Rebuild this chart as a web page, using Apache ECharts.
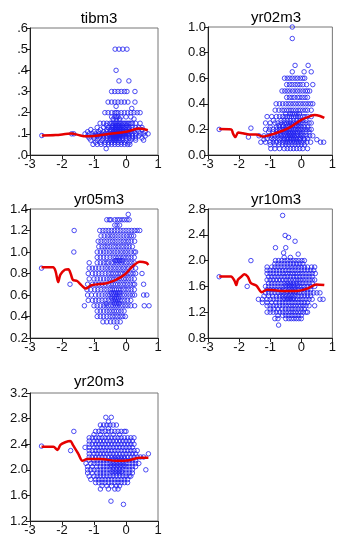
<!DOCTYPE html>
<html><head><meta charset="utf-8">
<script src="https://cdn.jsdelivr.net/npm/echarts@6/dist/echarts.min.js"></script>
<style>html,body{margin:0;padding:0;background:#fff}#c{width:339px;height:537px}</style>
</head><body><div id="c"></div>
<script>
const titles = ['tibm3','yr02m3','yr05m3','yr10m3','yr20m3'];
const xTicks = [-3,-2,-1,0,1];

// rows: [y, [x values...]]
const tibm3Rows = [
 [0.5,[-.34,-.22,-.1,.03]],
 [0.4,[-.31]],
 [0.35,[-.22,.09]],
 [0.3,[-.45,-.35,-.25,-.15,-.05,.03,.28]],
 [0.25,[-.56,-.45,-.35,-.25,-.15,-.05,.06,.28]],
 [0.23,[-.31]],
 [0.22,[.18]],
 [0.2,[-.66,-.56,-.45,-.35,-.3,-.25,-.15,-.05,.05,.15,.25,.35,.44]],
 [0.18,[-.45,-.35,-.3,-.25,-.15,0,.15]],
 [0.17,[-.4,-.3,-.2,.25]],
 [0.15,[-.81,-.7,-.6,-.5,-.45,-.4,-.35,-.3,-.25,-.2,-.15,-.1,-.05,0,.05,.1,.15,.2,.3,.44]],
 [0.14,[-.62,-.42,-.32,-.27,-.22,-.12,.02]],
 [0.13,[-.9,-.7,-.55,-.45,-.4,-.35,-.3,-.25,-.2,-.15,-.1,-.05,0,.05,.1,.2,.3,.4,.5]],
 [0.12,[-1.1,-.8,-.6,-.5,-.45,-.4,-.35,-.3,-.25,-.2,-.15,-.1,0,.1,.2,.35,.5]],
 [0.11,[-1.2,-1.0,-.85,-.7,-.6,-.5,-.4,-.35,-.3,-.25,-.2,-.15,-.1,-.05,0,.05,.15,.25,.4,.6]],
 [0.1,[-1.63,-1.7,-1.28,-1.15,-1.05,-.95,-.85,-.75,-.65,-.55,-.45,-.4,-.35,-.3,-.25,-.2,-.15,-.1,-.05,0,.05,.1,.2,.3,.45,.55,.69]],
 [0.095,[-.88,-.72,-.52,-.42,-.37,-.32,-.27,-.22,-.17,-.07,.07]],
 [0.092,[-2.63]],
 [0.09,[-1.2,-1.0,-.9,-.8,-.7,-.6,-.5,-.45,-.4,-.35,-.3,-.25,-.2,-.15,-.1,0,.1,.2,.3,.4,.6]],
 [0.08,[-1.15,-1.0,-.85,-.7,-.6,-.5,-.45,-.4,-.35,-.3,-.25,-.2,-.1,0,.1,.2,.3,.5]],
 [0.07,[-1.1,-.9,-.75,-.6,-.5,-.4,-.35,-.3,-.2,-.1,0,.15,.3,.55]],
 [0.06,[-.95,-.8,-.65,-.55,-.45,-.35,-.25,-.15,-.05,.1]],
 [0.05,[-1.03,-.9,-.78,-.66,-.55,-.45,-.35,-.25,-.15,-.05,.05,.12]],
 [0.03,[-.62]]
];
const yr02m3Rows = [
 [1.0,[-.29]],
 [0.91,[-.29]],
 [0.7,[-.2,.22]],
 [0.65,[-.29,.09,.32]],
 [0.6,[-.54,-.45,-.37,-.29,-.2,-.12,-.03,.05,.11]],
 [0.55,[-.47,-.38,-.3,-.2,-.12,-.04,.05,.17,.37]],
 [0.5,[-.62,-.53,-.45,-.37,-.28,-.2,-.12,-.04,.05,.13,.2,.27]],
 [0.45,[-.47,-.38,-.3,-.22,-.12,-.05,.03,.12,.2]],
 [0.4,[-.81,-.7,-.6,-.5,-.42,-.34,-.26,-.18,-.1,-.02,.06,.14,.22,.3,.37]],
 [0.35,[-.84,-.72,-.62,-.55,-.47,-.4,-.33,-.26,-.18,-.1,-.03,.05,.13,.2,.32]],
 [0.32,[-.5,-.36,-.29,-.22,-.14,-.06]],
 [0.3,[-1.1,-.95,-.8,-.7,-.6,-.52,-.45,-.38,-.32,-.25,-.18,-.1,-.03,.05,.12,.2,.32]],
 [0.27,[-.9,-.65,-.55,-.45,-.35,-.25,-.15,-.05,.05,.15]],
 [0.25,[-1.15,-1.0,-.85,-.75,-.65,-.55,-.48,-.4,-.33,-.25,-.18,-.1,-.02,.06,.15,.25,.32]],
 [0.23,[-.72,-.58,-.44,-.36,-.28,-.15,-.07]],
 [0.22,[-1.0,-.8,-.7,-.6,-.5,-.4,-.3,-.2,-.1,0,.1,.2]],
 [0.21,[-1.62]],
 [0.2,[-2.64,-1.15,-1.02,-.9,-.8,-.7,-.62,-.55,-.48,-.4,-.33,-.25,-.18,-.1,-.02,.06,.15,.25,.32]],
 [0.18,[-1.05,-.9,-.8,-.7,-.6,-.5,-.42,-.35,-.28,-.2,-.12,-.05,.05,.15,.25]],
 [0.165,[-.78,-.66,-.54,-.46,-.38,-.31,-.24,-.13,-.01]],
 [0.15,[-1.36,-1.2,-1.05,-.95,-.85,-.75,-.65,-.58,-.5,-.43,-.36,-.3,-.23,-.16,-.08,0,.08,.17,.27,.37]],
 [0.14,[-1.7]],
 [0.13,[-1.1,-.95,-.85,-.75,-.65,-.55,-.47,-.4,-.32,-.25,-.18,-.1,-.02,.08,.2]],
 [0.12,[-1.2,-.9,-.7,-.55,-.45,-.35,-.25,-.15,-.05,.1,.5]],
 [0.1,[-1.3,-1.15,-1.0,-.9,-.8,-.7,-.6,-.52,-.45,-.38,-.3,-.22,-.15,-.08,0,.08,.18,.3,.62,.72]],
 [0.08,[-1.0,-.85,-.72,-.6,-.5,-.4,-.3,-.2,-.1,0,.1]],
 [0.05,[-.98,-.85,-.7,-.55,-.45,-.35,-.25,-.15,-.05,.05,.2]]
];
const yr05m3Rows = [
 [1.35,[.07]],
 [1.3,[-.6,-.52,-.47,-.35,-.27,-.2,-.12,-.05,.03,.1]],
 [1.25,[-.35,-.28,-.2]],
 [1.2,[-1.62,-.82,-.72,-.63,-.54,-.45,-.36,-.27,-.18,-.09,0,.09,.18,.27,.35,.43]],
 [1.15,[-.78,-.68,-.58,-.5,-.42,-.34,-.25,-.16,-.07,.02,.1,.17,.24]],
 [1.1,[-.87,-.78,-.68,-.6,-.5,-.42,-.34,-.25,-.16,-.08,0,.08,.16,.27]],
 [1.05,[-.85,-.75,-.66,-.58,-.5,-.4,-.32,-.24,-.15,-.07,.02,.1,.2]],
 [1.0,[-1.63,-.9,-.8,-.7,-.62,-.52,-.44,-.35,-.27,-.18,-.1,-.02,.06,.15,.25,.3]],
 [0.95,[-.9,-.8,-.7,-.6,-.5,-.4,-.32,-.24,-.16,-.08,0,.08,.16,.26]],
 [0.92,[-.34,-.28,-.2,-.12]],
 [0.9,[-1.15,-.9,-.8,-.7,-.62,-.55,-.45,-.38,-.3,-.22,-.14,-.06,.02,.1,.18,.26]],
 [0.85,[-2.64,-1.15,-1.05,-.95,-.85,-.75,-.65,-.57,-.48,-.4,-.32,-.24,-.16,-.08,0,.08,.18,.3]],
 [0.8,[-1.18,-1.05,-.95,-.85,-.75,-.65,-.55,-.47,-.4,-.32,-.25,-.17,-.1,-.02,.06,.14,.22,.3,.5]],
 [0.75,[-1.15,-1.0,-.9,-.8,-.7,-.6,-.52,-.44,-.37,-.3,-.22,-.15,-.07,0,.08,.16,.26]],
 [0.7,[-1.75,-1.2,-1.05,-.95,-.85,-.75,-.65,-.55,-.47,-.4,-.33,-.26,-.18,-.1,-.03,.05,.13,.22,.27,.55]],
 [0.65,[-1.22,-1.1,-.98,-.88,-.78,-.68,-.6,-.5,-.43,-.36,-.3,-.23,-.16,-.08,0,.08,.16,.26]],
 [0.62,[-.46,-.38,-.32,-.26,-.2]],
 [0.6,[-1.2,-1.08,-.95,-.85,-.75,-.65,-.57,-.5,-.42,-.35,-.28,-.2,-.12,-.05,.03,.12,.2,.27,.55,.65]],
 [0.57,[-.44,-.36,-.3,-.24]],
 [0.55,[-1.18,-1.05,-.95,-.85,-.75,-.65,-.55,-.47,-.4,-.33,-.26,-.19,-.12,-.04,.05,.15]],
 [0.52,[-.62,-.36,-.3,-.22]],
 [0.5,[-1.3,-1.0,-.9,-.8,-.7,-.62,-.55,-.47,-.4,-.33,-.26,-.18,-.1,-.02,.06,.15,.27,.57,.72]],
 [0.45,[-.9,-.8,-.7,-.6,-.52,-.44,-.37,-.3,-.23,-.15,-.06]],
 [0.4,[-.9,-.8,-.7,-.6,-.5,-.42,-.34,-.26,-.18,-.1,-.02]],
 [0.35,[-.72,-.6,-.48,-.38,-.28,-.18]],
 [0.3,[-.3]]
];
const yr10m3Rows = [
 [2.7,[-.6]],
 [2.39,[-.52]],
 [2.36,[-.41]],
 [2.3,[-.2]],
 [2.2,[-.83,-.5]],
 [2.12,[-.57]],
 [2.1,[-.1]],
 [2.05,[-.55,-.35]],
 [2.0,[-1.62,-.83,-.73,-.63,-.53,-.44,-.35,-.26,-.17,-.08,.02,.1]],
 [1.95,[-.85,-.75,-.65,-.55,-.45,-.35,-.25,-.15,-.05,.05]],
 [1.9,[-1.1,-.95,-.85,-.75,-.65,-.55,-.45,-.36,-.27,-.18,-.09,0,.1,.2,.33,.43]],
 [1.85,[-1.1,-1.0,-.9,-.8,-.7,-.6,-.5,-.4,-.3,-.2,-.1,0,.1,.2,.3,.4]],
 [1.8,[-1.1,-1.0,-.9,-.8,-.7,-.6,-.52,-.44,-.36,-.28,-.2,-.12,-.04,.05,.15,.25,.35,.45]],
 [1.75,[-2.64,-1.05,-.95,-.85,-.75,-.65,-.55,-.45,-.35,-.25,-.15,-.05,.05,.15,.25,.35]],
 [1.7,[-1.1,-1.0,-.9,-.8,-.7,-.6,-.5,-.42,-.34,-.26,-.18,-.1,-.02,.06,.15,.25,.35,.43]],
 [1.65,[-1.05,-.95,-.85,-.75,-.65,-.55,-.45,-.35,-.25,-.15,-.05,.05,.15,.25,.35]],
 [1.62,[-.5,-.4,-.32,-.24,-.12]],
 [1.6,[-1.74,-1.15,-1.05,-.95,-.85,-.75,-.65,-.56,-.47,-.38,-.3,-.22,-.14,-.06,.02,.1,.2,.3,.43]],
 [1.55,[-1.1,-1.0,-.9,-.8,-.7,-.6,-.5,-.4,-.3,-.2,-.1,0,.1,.2,.3]],
 [1.52,[-.62,-.45,-.35,-.27,-.18]],
 [1.5,[-1.15,-1.05,-.95,-.85,-.75,-.65,-.56,-.47,-.38,-.3,-.22,-.14,-.06,.02,.1,.2,.3,.4,.5,.6]],
 [1.45,[-1.2,-1.05,-.92,-.8,-.7,-.6,-.5,-.4,-.3,-.2,-.1,0,.1,.2,.3]],
 [1.42,[-.55,-.43,-.35,-.25]],
 [1.4,[-1.38,-1.25,-1.1,-1.0,-.9,-.8,-.7,-.6,-.52,-.44,-.36,-.28,-.2,-.12,-.04,.05,.15,.25,.35,.6,.7]],
 [1.35,[-1.25,-1.1,-.95,-.82,-.7,-.6,-.5,-.4,-.3,-.2,-.1,0,.1,.2]],
 [1.3,[-1.1,-1.0,-.9,-.8,-.7,-.6,-.5,-.42,-.34,-.26,-.18,-.1,-.02,.06,.15,.25,.43]],
 [1.25,[-1.0,-.88,-.75,-.62,-.5,-.4,-.3,-.2,-.1,0,.1]],
 [1.2,[-1.1,-1.0,-.9,-.8,-.7,-.6,-.5,-.42,-.34,-.26,-.18,-.1,-.02,.06,.15,.2]],
 [1.15,[-.75,-.6,-.5,-.4,-.3,-.2,-.1,0]],
 [1.1,[-.85,-.75,-.5,-.4,-.32,-.24,-.16,-.08,0]],
 [1.0,[-.73]]
];
const yr20m3Rows = [
 [2.82,[-.63,-.46]],
 [2.75,[-.55]],
 [2.7,[-.8,-.7,-.6,-.5,-.4,-.3]],
 [2.65,[-.75,-.55]],
 [2.6,[-1.63,-.95,-.85,-.75,-.65,-.55,-.45,-.35,-.25,-.15,-.05,0]],
 [2.55,[-1.0,-.8,-.6,-.4,-.2]],
 [2.5,[-1.15,-1.05,-.95,-.85,-.75,-.65,-.55,-.45,-.35,-.25,-.15,-.05,.05,.15,.25]],
 [2.45,[-1.15,-1.0,-.9,-.8,-.7,-.6,-.5,-.4,-.3,-.2,-.1,0,.1,.2]],
 [2.4,[-1.15,-1.05,-.95,-.85,-.75,-.65,-.55,-.45,-.35,-.25,-.15,-.05,.05,.15,.25]],
 [2.37,[-2.64]],
 [2.35,[-1.28,-1.15,-1.0,-.9,-.8,-.7,-.6,-.5,-.4,-.3,-.2,-.1,0,.1,.2]],
 [2.3,[-1.73,-1.15,-1.05,-.95,-.85,-.75,-.65,-.55,-.45,-.35,-.25,-.15,-.05,.05,.15,.25,.35]],
 [2.25,[-1.15,-1.0,-.9,-.8,-.7,-.6,-.5,-.4,-.3,-.2,-.1,0,.1,.2,.3,.7]],
 [2.2,[-1.15,-1.05,-.95,-.85,-.75,-.65,-.55,-.45,-.35,-.25,-.15,-.05,.05,.15,.25,.35,.45,.55]],
 [2.17,[-.4,-.32,-.22,-.14,-.05]],
 [2.15,[-1.15,-1.0,-.9,-.8,-.7,-.6,-.5,-.4,-.3,-.2,-.1,0,.1,.2,.3]],
 [2.1,[-1.25,-1.1,-1.0,-.9,-.8,-.7,-.6,-.5,-.4,-.3,-.2,-.1,0,.1,.2,.3,.4]],
 [2.07,[-.46,-.36,-.26,-.16,-.06]],
 [2.05,[-1.2,-1.05,-.92,-.8,-.7,-.6,-.5,-.4,-.3,-.2,-.1,0,.1,.2,.3]],
 [2.0,[-1.2,-1.1,-1.0,-.9,-.8,-.7,-.6,-.5,-.4,-.3,-.2,-.1,0,.1,.2,.62]],
 [1.97,[-.44,-.34,-.24,-.14]],
 [1.95,[-1.2,-1.05,-.9,-.8,-.7,-.6,-.5,-.4,-.3,-.2,-.1,0,.1,.2]],
 [1.9,[-1.15,-1.0,-.9,-.8,-.7,-.6,-.5,-.4,-.3,-.2,-.1,0,.1,.15]],
 [1.85,[-1.1,-.95,-.85,-.75,-.65,-.55,-.45,-.35,-.25,-.15,-.05,.05]],
 [1.8,[-.95,-.85,-.75,-.65,-.55,-.45,-.35,-.25,-.15,-.05,.05]],
 [1.75,[-.75,-.6,-.45,-.3,-.2]],
 [1.7,[-.8,-.55,-.35,-.25]],
 [1.51,[-.47]],
 [1.46,[-.08]]
];

// smoothed (red) curves: [x, y]
const tibm3Fit = [[-2.63,.092],[-2.2,.094],[-1.7,.101],[-1.5,.095],[-1.25,.088],[-1.0,.09],[-0.5,.1],[0,.11],[0.2,.118],[0.4,.125],[0.55,.123],[0.68,.117]];
const yr02m3Fit = [[-2.64,.203],[-2.25,.2],[-2.2,.17],[-2.12,.14],[-2.03,.175],[-1.88,.17],[-1.67,.16],[-1.44,.16],[-1.25,.145],[-0.83,.17],[-0.41,.21],[0,.275],[0.25,.3],[0.43,.313],[0.6,.305],[0.74,.29]];
const yr05m3Fit = [[-2.64,.857],[-2.28,.857],[-2.2,.82],[-2.12,.72],[-2.05,.79],[-1.91,.835],[-1.8,.84],[-1.72,.79],[-1.66,.74],[-1.53,.73],[-1.39,.69],[-1.26,.66],[-1.08,.69],[-0.61,.71],[-0.35,.735],[-0.04,.79],[0.22,.87],[0.43,.91],[0.63,.9],[0.7,.88]];
const yr10m3Fit = [[-2.64,1.755],[-2.26,1.755],[-2.15,1.69],[-2.09,1.62],[-2.04,1.7],[-1.93,1.75],[-1.83,1.79],[-1.72,1.75],[-1.62,1.65],[-1.44,1.61],[-1.27,1.51],[-1.1,1.55],[-0.62,1.53],[-0.15,1.53],[0.22,1.57],[0.48,1.63],[0.74,1.62]];
const yr20m3Fit = [[-2.64,2.36],[-2.27,2.36],[-2.14,2.31],[-2.05,2.39],[-1.9,2.43],[-1.74,2.45],[-1.66,2.39],[-1.49,2.25],[-1.36,2.14],[-1.21,2.17],[-0.81,2.17],[-0.3,2.14],[0.1,2.15],[0.43,2.19],[0.7,2.19]];

const yMin = [0, 0, 0.2, 0.8, 1.2];
const yMax = [0.6, 1.0, 1.4, 2.8, 3.2];
const yStep = [0.1, 0.2, 0.2, 0.4, 0.4];

const rowsAll = [tibm3Rows, yr02m3Rows, yr05m3Rows, yr10m3Rows, yr20m3Rows];
const fitsAll = [tibm3Fit, yr02m3Fit, yr05m3Fit, yr10m3Fit, yr20m3Fit];

const grids = [
 {left:30, top:28, width:128, height:127},
 {left:208, top:27, width:127, height:128},
 {left:30, top:209, width:128, height:129},
 {left:208, top:209, width:127, height:129},
 {left:30, top:393, width:128, height:128}
];
const titlePos = [[94,6],[271,5],[94,187],[271,187],[94,369]];

const font = 'Liberation Sans, Arial, sans-serif';
const opt = {animation:false, backgroundColor:'#fff', title:[], grid:[], xAxis:[], yAxis:[], series:[]};
for (let i=0;i<5;i++){
  opt.title.push({text:titles[i], left:titlePos[i][0], top:titlePos[i][1], textAlign:'center',
    textStyle:{fontFamily:font, fontSize:15, fontWeight:'normal', color:'#000'}});
  opt.grid.push(Object.assign({show:true, borderColor:'#777', borderWidth:1, backgroundColor:'#fff'}, grids[i]));
  opt.xAxis.push({type:'value', gridIndex:i, min:xTicks[0], max:xTicks[xTicks.length-1], interval:1,
    axisLine:{show:true, onZero:false, lineStyle:{color:'#222', width:1}},
    axisTick:{show:true, length:4, lineStyle:{color:'#222'}},
    axisLabel:{fontFamily:font, fontSize:13, color:'#111', margin:3},
    splitLine:{show:false}});
  const fmt = i===0 ? (v=>v.toFixed(1).replace(/^0/,'')) : (v=>v.toFixed(1));
  opt.yAxis.push({type:'value', gridIndex:i, min:yMin[i], max:yMax[i], interval:yStep[i],
    axisLine:{show:true, onZero:false, lineStyle:{color:'#222', width:1}},
    axisTick:{show:true, length:4, lineStyle:{color:'#222'}},
    axisLabel:{fontFamily:font, fontSize:13, color:'#111', margin:2, formatter:fmt},
    splitLine:{show:false}});
  const pts = [];
  rowsAll[i].forEach(r => r[1].forEach(x => pts.push([x, r[0]])));
  opt.series.push({type:'scatter', xAxisIndex:i, yAxisIndex:i, data:pts, symbol:'circle', symbolSize:4.5,
    itemStyle:{color:'rgba(0,0,0,0)', borderColor:'#2020f0', borderWidth:1}, z:2});
  opt.series.push({type:'line', xAxisIndex:i, yAxisIndex:i, data:fitsAll[i], smooth:0.3, showSymbol:false,
    lineStyle:{color:'#e50000', width:2.5}, z:3});
}
const chart = echarts.init(document.getElementById('c'), null, {renderer:'canvas'});
chart.setOption(opt);
</script>
</body></html>
